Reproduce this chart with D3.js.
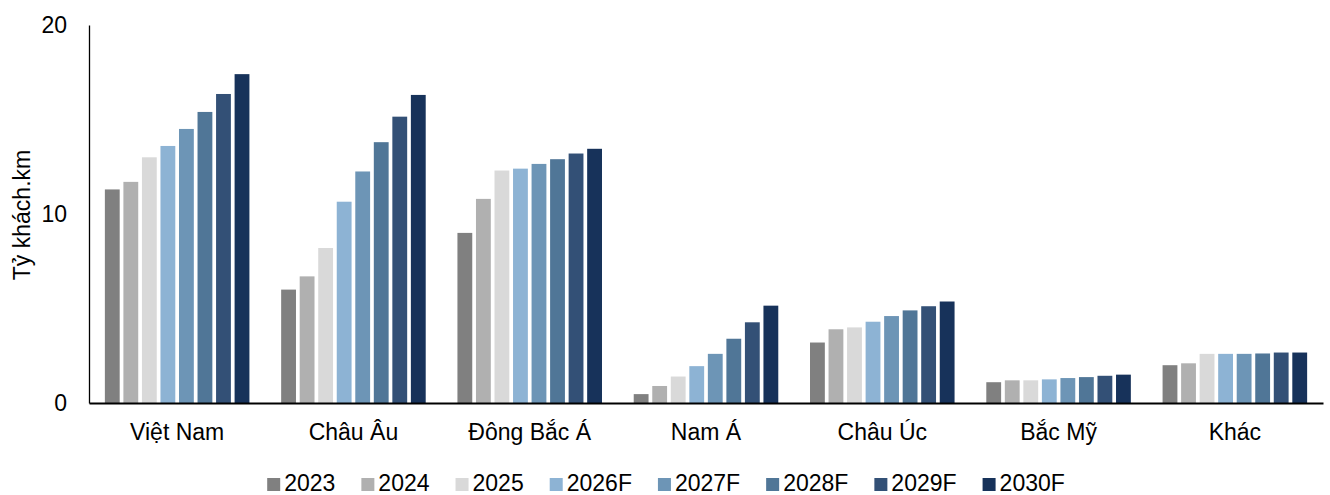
<!DOCTYPE html>
<html><head><meta charset="utf-8">
<script src="https://cdn.jsdelivr.net/npm/d3@7"></script>
<style>body{margin:0;background:#fff;}svg{display:block;font-family:"Liberation Sans",Arial,sans-serif;}</style>
</head><body><svg id="c" width="1330" height="495"></svg>
<script>
const categories = ["Việt Nam","Châu Âu","Đông Bắc Á","Nam Á","Châu Úc","Bắc Mỹ","Khác"];
const seriesNames = ["2023","2024","2025","2026F","2027F","2028F","2029F","2030F"];
const s2023  = [11.3, 6.0, 9.0, 0.47, 3.2, 1.1, 2.0];
const s2024  = [11.7, 6.7, 10.8, 0.9, 3.9, 1.2, 2.1];
const s2025  = [13.0, 8.2, 12.3, 1.4, 4.0, 1.2, 2.6];
const s2026F = [13.6, 10.65, 12.4, 1.95, 4.3, 1.25, 2.6];
const s2027F = [14.5, 12.25, 12.65, 2.6, 4.6, 1.32, 2.6];
const s2028F = [15.4, 13.8, 12.9, 3.4, 4.9, 1.37, 2.62];
const s2029F = [16.35, 15.15, 13.2, 4.27, 5.12, 1.44, 2.67];
const s2030F = [17.4, 16.3, 13.45, 5.15, 5.37, 1.5, 2.67];
const seriesValues = [s2023,s2024,s2025,s2026F,s2027F,s2028F,s2029F,s2030F];
const yTicks = [0,10,20];
const yTitle = "Tỷ khách.km";
const colors = ["#808080","#b0b0b0","#d9d9d9","#8db3d4","#6d95b6","#507697","#335076","#17325a"];

const FONT = "Liberation Sans, Arial, sans-serif";
const FS = 23;
const svg = d3.select("#c");
const m = {l:89, r:1323, t:25, b:403};
const x0 = d3.scaleBand().domain(categories).range([m.l, m.r]).paddingInner(0.18).paddingOuter(0.09);
const x1 = d3.scaleBand().domain(seriesNames).range([0, x0.bandwidth()]).paddingInner(0.2).paddingOuter(0);
const y = d3.scaleLinear().domain([0,20]).range([m.b, m.t]);

// bars
const g = svg.append("g");
categories.forEach((c,ci)=>{
  seriesNames.forEach((s,si)=>{
    const v = seriesValues[si][ci];
    g.append("rect")
      .attr("x", x0(c)+x1(s))
      .attr("y", y(v))
      .attr("width", x1.bandwidth())
      .attr("height", y(0)-y(v))
      .attr("fill", colors[si]);
  });
});

// y axis
const ya = svg.append("g").attr("transform",`translate(${m.l},0)`)
  .call(d3.axisLeft(y).tickValues(yTicks).tickSize(0).tickPadding(22).tickFormat(d3.format("d")));
ya.select(".domain").attr("stroke","#000").attr("stroke-width",1.3);
ya.selectAll("text").attr("font-size",FS).attr("fill","#000").attr("font-family",FONT);

// x axis
const xa = svg.append("g").attr("transform",`translate(0,${m.b})`)
  .call(d3.axisBottom(x0).tickSize(0).tickPadding(21));
xa.select(".domain").attr("stroke","#000").attr("stroke-width",2);
xa.selectAll("text").attr("font-size",FS).attr("fill","#000").attr("font-family",FONT);

// y title
svg.append("text").attr("transform","translate(30,215) rotate(-90)")
  .attr("text-anchor","middle").attr("font-size",FS).attr("font-family",FONT).attr("fill","#000").text(yTitle);

// legend (centered)
const leg = svg.append("g");
const items = seriesNames.map((s,i)=>{
  const it = leg.append("g");
  it.append("rect").attr("x",0).attr("y",-13).attr("width",13).attr("height",13).attr("fill",colors[i]);
  const t = it.append("text").attr("x",17).attr("y",0).attr("font-size",FS).attr("font-family",FONT).attr("fill","#000").text(s);
  return {g:it, w:17 + t.node().getComputedTextLength()};
});
const gap = 26;
const total = d3.sum(items, d=>d.w) + gap*(items.length-1);
let cx = 666 - total/2;
items.forEach(d=>{ d.g.attr("transform",`translate(${cx},491)`); cx += d.w + gap; });
</script></body></html>
